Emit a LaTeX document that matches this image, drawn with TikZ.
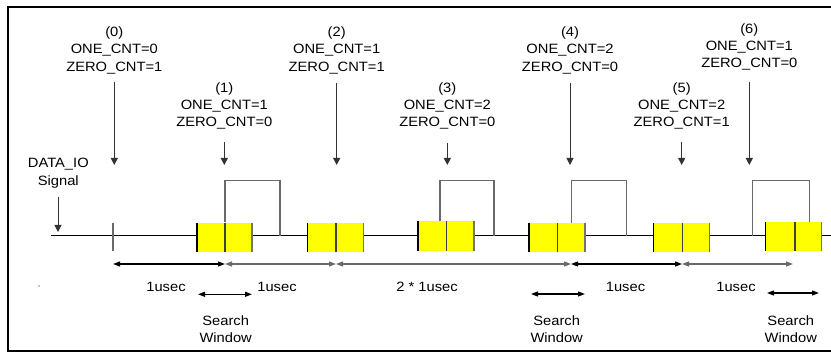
\documentclass[tikz,border=0pt]{standalone}
\usepackage{fontspec}
\setmainfont{Liberation Sans}[FakeStretch=1.09]
\usetikzlibrary{arrows.meta}
\definecolor{sigyellow}{RGB}{255,255,0}
\definecolor{pulsegray}{RGB}{105,105,105}
\newcommand{\yboxdraw}[5]{% left, mid, right, top, bottom
  \fill[sigyellow] (#1,#4) rectangle (#3,#5);
  \draw[line width=1.5pt,black] (#1,#4) -- (#1,#5);
  \draw[line width=1.2pt,black!75] (#2,#4) -- (#2,#5);
  \draw[line width=1.2pt,black!55] (#3,#4) -- (#3,#5);
}
\begin{document}
\begin{tikzpicture}[x=1pt,y=-1pt,
  lbl/.style={font=\fontsize{13.5}{17.3}\selectfont, align=center, inner sep=0pt, anchor=north},
  sig/.style={line width=1pt, black},
  pulse/.style={line width=1.2pt, pulsegray},
  marker/.style={line width=1pt, black!80, -{Triangle[length=7pt,width=7pt]}},
  dimblack/.style={line width=1.2pt, black, {Triangle[length=7pt,width=5pt]}-{Triangle[length=7pt,width=5pt]}},
  dimgray/.style={line width=1.2pt, pulsegray, {Triangle[length=7pt,width=5pt]}-{Triangle[length=7pt,width=5pt]}},
]
\useasboundingbox (0,0) rectangle (831,352);
% frame (right side cut off)
\draw[line width=2pt, black] (832,6.7) -- (8,6.7) -- (8,350.7) -- (832,350.7);

% signal line and tick
\coordinate (s0) at (51,236);
\coordinate (s1) at (832,236);
\draw[sig] (s0) -- (s1);
\draw[line width=1.2pt, pulsegray] (113,222.7) -- (113,251);

% pulses
\draw[pulse] (225,222.5) -- (225,180.7) -- (280,180.7) -- (280,236);
\draw[pulse] (440,221) -- (440,180.7) -- (494,180.7) -- (494,236);
\draw[pulse] (571.7,223) -- (571.7,180.7) -- (626.7,180.7) -- (626.7,236);
\draw[pulse] (752.7,236) -- (752.7,180.7) -- (809.3,180.7) -- (809.3,222);

% yellow boxes
\yboxdraw{197}{225}{252}{222.7}{252}
\yboxdraw{307.3}{336}{363.3}{223}{252}
\yboxdraw{418}{446.7}{474}{221}{251}
\yboxdraw{529}{557.3}{585}{223}{252}
\yboxdraw{653.3}{682.7}{709.3}{222.7}{251.7}
\yboxdraw{765.7}{795}{821.7}{222.3}{251}

% top labels
\node[lbl] (l0) at (114.3,26.7) {(0)\\ONE\_CNT=0\\ZERO\_CNT=1};
\node[lbl] (l1) at (224.3,82.3) {(1)\\ONE\_CNT=1\\ZERO\_CNT=0};
\node[lbl] (l2) at (336.7,26.7) {(2)\\ONE\_CNT=1\\ZERO\_CNT=1};
\node[lbl] (l3) at (447.3,82.3) {(3)\\ONE\_CNT=2\\ZERO\_CNT=0};
\node[lbl] (l4) at (570,26.7) {(4)\\ONE\_CNT=2\\ZERO\_CNT=0};
\node[lbl] (l5) at (681.7,82.3) {(5)\\ONE\_CNT=2\\ZERO\_CNT=1};
\node[lbl] (l6) at (749.3,23.3) {(6)\\ONE\_CNT=1\\ZERO\_CNT=0};

% marker arrows
\coordinate (a0t) at (114.3,82);  \coordinate (a0b) at (114.3,165);
\coordinate (a1t) at (224.3,142); \coordinate (a1b) at (224.3,165);
\coordinate (a2t) at (336.7,83);  \coordinate (a2b) at (336.7,165);
\coordinate (a3t) at (447.3,143); \coordinate (a3b) at (447.3,165);
\coordinate (a4t) at (570,83);    \coordinate (a4b) at (570,165);
\coordinate (a5t) at (681.7,142); \coordinate (a5b) at (681.7,165);
\coordinate (a6t) at (749.3,82);  \coordinate (a6b) at (749.3,165);
\foreach \i in {0,...,6} { \draw[marker] (a\i t) -- (a\i b); }

% DATA_IO label
\node[lbl] (dio) at (58.3,158.3) {DATA\_IO\\Signal};
\coordinate (dt) at (58,197);
\coordinate (db) at (58,232);
\draw[marker] (dt) -- (db);

% dimension arrows
\coordinate (d0) at (113,264);
\coordinate (d1) at (225,264);
\coordinate (d2) at (336,264);
\coordinate (d3) at (571,264);
\coordinate (d4) at (682,264);
\coordinate (d5) at (793,264);
\draw[dimblack] (d0) -- (d1);
\draw[dimgray] (d1) -- (d2);
\draw[dimgray] (d2) -- (d3);
\draw[dimblack] (d3) -- (d4);
\draw[dimgray] (d4) -- (d5);

\node[lbl] (t1) at (166,281.7) {1usec};
\node[lbl] (t2) at (277,281.7) {1usec};
\node[lbl] (t3) at (427,281.7) {2 * 1usec};
\node[lbl] (t4) at (625.5,281.7) {1usec};
\node[lbl] (t5) at (736,281.7) {1usec};

% search windows
\coordinate (w1a) at (198,294.3); \coordinate (w1b) at (252,294.3);
\coordinate (w2a) at (531,294);   \coordinate (w2b) at (585,294);
\coordinate (w3a) at (767,293);   \coordinate (w3b) at (819,293);
\draw[dimblack] (w1a) -- (w1b);
\draw[dimblack] (w2a) -- (w2b);
\draw[dimblack] (w3a) -- (w3b);
\node[lbl] (sw1) at (225.7,315.5) {Search\\Window};
\node[lbl] (sw2) at (556.7,315.5) {Search\\Window};
\node[lbl] (sw3) at (790.8,315.5) {Search\\Window};

% stray dot
\fill[black] (39,286) circle (0.7pt);
\end{tikzpicture}
\end{document}
